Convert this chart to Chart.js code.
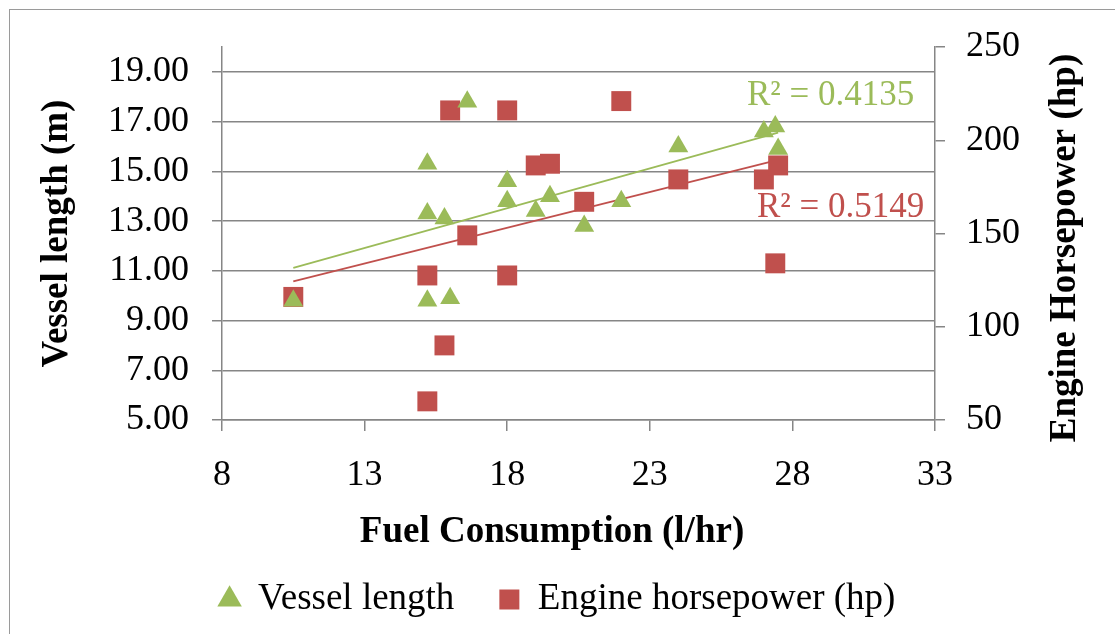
<!DOCTYPE html>
<html>
<head>
<meta charset="utf-8">
<script src="https://cdn.jsdelivr.net/npm/chart.js@4.4.1/dist/chart.umd.min.js"></script>
<style>
  html, body { margin: 0; padding: 0; background: #fff; }
  #wrap { position: relative; width: 1115px; height: 634px; overflow: hidden; }
  #frame { position: absolute; left: 9px; top: 9px; width: 1200px; height: 700px; border: 1.5px solid #9a9a9a; box-sizing: border-box; }
  canvas { position: absolute; left: 0; top: 0; }
</style>
</head>
<body>
<div id="wrap">
  <div id="frame"></div>
  <canvas id="chart" width="1115" height="634"></canvas>
</div>
<script>
// fuel consumption (l/hr) vs vessel length (m)
const fuelVessel   = [10.5, 15.2, 15.2, 15.8, 16.6, 15.2, 16.0, 18.0, 18.0, 19.0, 19.5, 20.7, 22.0, 24.0, 27.0, 27.4, 27.5];
const vesselLength = [9.8, 15.3, 13.3, 13.1, 17.8, 9.8, 9.9, 14.6, 13.8, 13.4, 14.0, 12.8, 13.8, 16.0, 16.6, 16.8, 15.9];

// fuel consumption (l/hr) vs engine horsepower (hp)
const fuelEngine = [10.5, 16.0, 18.0, 19.0, 19.5, 16.6, 15.2, 18.0, 15.8, 15.2, 22.0, 20.7, 24.0, 27.0, 27.5, 27.4];
const engineHp   = [116, 216, 216, 186.5, 187.4, 149, 127.5, 127.5, 90, 60, 221, 167, 179, 179, 186.5, 134];

const rSquared = ['0.4135', '0.5149'];

const xTicks = [8, 13, 18, 23, 28, 33];
const lengthTicks = [5, 7, 9, 11, 13, 15, 17, 19];
const hpTicks = [50, 100, 150, 200, 250];

const green = '#9BBB59';
const red = '#C0504D';
const axisGray = '#868686';

Chart.defaults.font.family = '"Liberation Serif", "Times New Roman", serif';
Chart.defaults.color = '#000';

function toPoints(xs, ys) {
  return xs.map((x, i) => ({ x: x, y: ys[i] }));
}

// least squares line over the data range
function trend(xs, ys) {
  const n = xs.length;
  const mx = xs.reduce((a, b) => a + b, 0) / n;
  const my = ys.reduce((a, b) => a + b, 0) / n;
  let sxy = 0, sxx = 0;
  xs.forEach((x, i) => {
    sxy += (x - mx) * (ys[i] - my);
    sxx += (x - mx) * (x - mx);
  });
  const b = sxy / sxx;
  const a = my - b * mx;
  const lo = Math.min(...xs), hi = Math.max(...xs);
  return [{ x: lo, y: a + b * lo }, { x: hi, y: a + b * hi }];
}

const extraText = {
  id: 'extraText',
  afterDraw(chart) {
    const ctx = chart.ctx;
    ctx.save();
    ctx.fillStyle = '#000';
    ctx.font = 'bold 37px "Liberation Serif"';
    ctx.textAlign = 'center';
    ctx.textBaseline = 'alphabetic';
    ctx.fillText('Fuel Consumption (l/hr)', 552, 542);
    ctx.translate(1075, 248);
    ctx.rotate(-Math.PI / 2);
    ctx.fillText('Engine Horsepower (hp)', 0, 0);
    ctx.restore();

    ctx.save();
    ctx.font = '35px "Liberation Serif"';
    ctx.textAlign = 'left';
    ctx.textBaseline = 'alphabetic';
    ctx.fillStyle = green;
    ctx.fillText('R² = ' + rSquared[0], 747, 105);
    ctx.fillStyle = red;
    ctx.fillText('R² = ' + rSquared[1], 757, 217);
    ctx.restore();
  }
};

new Chart(document.getElementById('chart'), {
  type: 'scatter',
  data: {
    datasets: [
      {
        label: 'Vessel length',
        data: toPoints(fuelVessel, vesselLength),
        yAxisID: 'y',
        pointStyle: 'triangle',
        pointRadius: 11.5,
        pointBorderWidth: 0,
        borderWidth: 0,
        backgroundColor: green,
        borderColor: green
      },
      {
        label: 'Engine horsepower (hp)',
        data: toPoints(fuelEngine, engineHp),
        yAxisID: 'y1',
        pointStyle: 'rect',
        pointRadius: 14.1,
        pointBorderWidth: 0,
        borderWidth: 0,
        backgroundColor: red,
        borderColor: red
      },
      {
        label: 'trend length',
        data: trend(fuelVessel, vesselLength),
        yAxisID: 'y',
        showLine: true,
        pointRadius: 0,
        borderColor: green,
        borderWidth: 1.8
      },
      {
        label: 'trend hp',
        data: trend(fuelEngine, engineHp),
        yAxisID: 'y1',
        showLine: true,
        pointRadius: 0,
        borderColor: red,
        borderWidth: 1.8
      }
    ]
  },
  options: {
    responsive: false,
    animation: false,
    layout: { padding: { top: 47, bottom: 6, left: 0, right: 0 } },
    plugins: {
      legend: {
        position: 'bottom',
        labels: {
          usePointStyle: true,
          boxWidth: 20,
          boxHeight: 20,
          padding: 45,
          color: '#000',
          font: { size: 37 },
          filter: item => item.datasetIndex < 2
        }
      },
      tooltip: { enabled: false }
    },
    scales: {
      x: {
        type: 'linear',
        position: 'bottom',
        min: 8,
        max: 33,
        afterBuildTicks: s => { s.ticks = xTicks.map(v => ({ value: v })); },
        afterFit: s => { s.height = 116; },
        grid: { drawOnChartArea: false, tickLength: 11, color: axisGray, lineWidth: 1.5 },
        border: { color: axisGray, width: 1.5 },
        ticks: { padding: 23, color: '#000', font: { size: 36 } }
      },
      y: {
        type: 'linear',
        position: 'left',
        min: 5,
        max: 20,
        afterBuildTicks: s => { s.ticks = lengthTicks.map(v => ({ value: v })); },
        afterFit: s => { s.width = 222; },
        grid: { tickLength: 10, color: axisGray, lineWidth: 1.5 },
        border: { color: axisGray, width: 1.5 },
        ticks: { padding: 23, color: '#000', font: { size: 36 }, callback: v => v.toFixed(2) },
        title: {
          display: true,
          text: 'Vessel length (m)',
          color: '#000',
          font: { size: 37, weight: 'bold' },
          padding: { top: 35, bottom: 0 }
        }
      },
      y1: {
        type: 'linear',
        position: 'right',
        min: 50,
        max: 250,
        afterBuildTicks: s => { s.ticks = hpTicks.map(v => ({ value: v })); },
        afterFit: s => { s.width = 180; },
        grid: { drawOnChartArea: false, tickLength: 10, color: axisGray, lineWidth: 1.5 },
        border: { color: axisGray, width: 1.5 },
        ticks: { padding: 21, color: '#000', font: { size: 36 } }
      }
    }
  },
  plugins: [extraText]
});
</script>
</body>
</html>
